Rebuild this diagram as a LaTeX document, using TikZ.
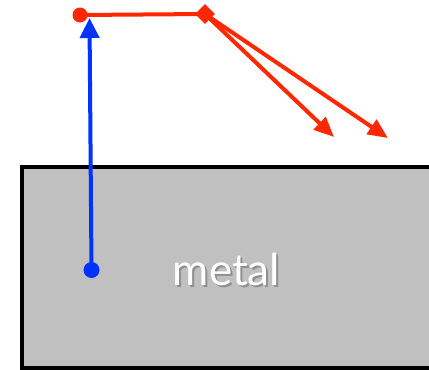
\documentclass[tikz,border=0pt]{standalone}
\usepackage{fontspec}
\setmainfont{Lato}
\usetikzlibrary{arrows.meta,shapes.geometric}
\definecolor{redc}{RGB}{255,40,0}
\definecolor{bluec}{RGB}{0,51,255}
\definecolor{metalgray}{RGB}{192,192,192}
\tikzset{
  redline/.style={draw=redc,line width=4pt},
  redarrow/.style={redline,-{Triangle[length=20pt,width=17pt]}},
  bluearrow/.style={draw=bluec,line width=4pt,-{Triangle[length=20pt,width=19pt]}},
  dotnode/.style={circle,inner sep=0pt,minimum size=#1},
  labeltext/.style={font=\fontsize{44}{48}\selectfont,anchor=base,inner sep=0pt}
}
\begin{document}
\begin{tikzpicture}[x=1pt,y=-1pt]
\useasboundingbox (0,0) rectangle (429,370);
% metal block
\fill[metalgray] (22,167) rectangle (440,368);
\draw[line width=4pt] (440,167) -- (22,167) -- (22,368) -- (440,368);
% label with soft shadow
\node[labeltext,text=black,opacity=0.25] (shadow) at (228.5,287.5) {metal};
\node[labeltext,text=white] (lab) at (226.5,285) {metal};
% nodes
\node[dotnode=16pt,fill=bluec] (bd) at (91.5,270) {};
\node[dotnode=15pt,fill=redc] (rd) at (80,15) {};
\node[diamond,fill=redc,inner sep=0pt,minimum size=20pt] (dm) at (205,14) {};
\coordinate (bt) at (89.5,18);
\coordinate (t1) at (334,137);
\coordinate (t2) at (388,138);
% connectors
\draw[bluearrow] (bd.center) -- (bt);
\draw[redline] (rd.center) -- (dm.center);
\draw[redarrow] (dm.center) -- (t1);
\draw[redarrow] (dm.center) -- (t2);
\end{tikzpicture}
\end{document}
